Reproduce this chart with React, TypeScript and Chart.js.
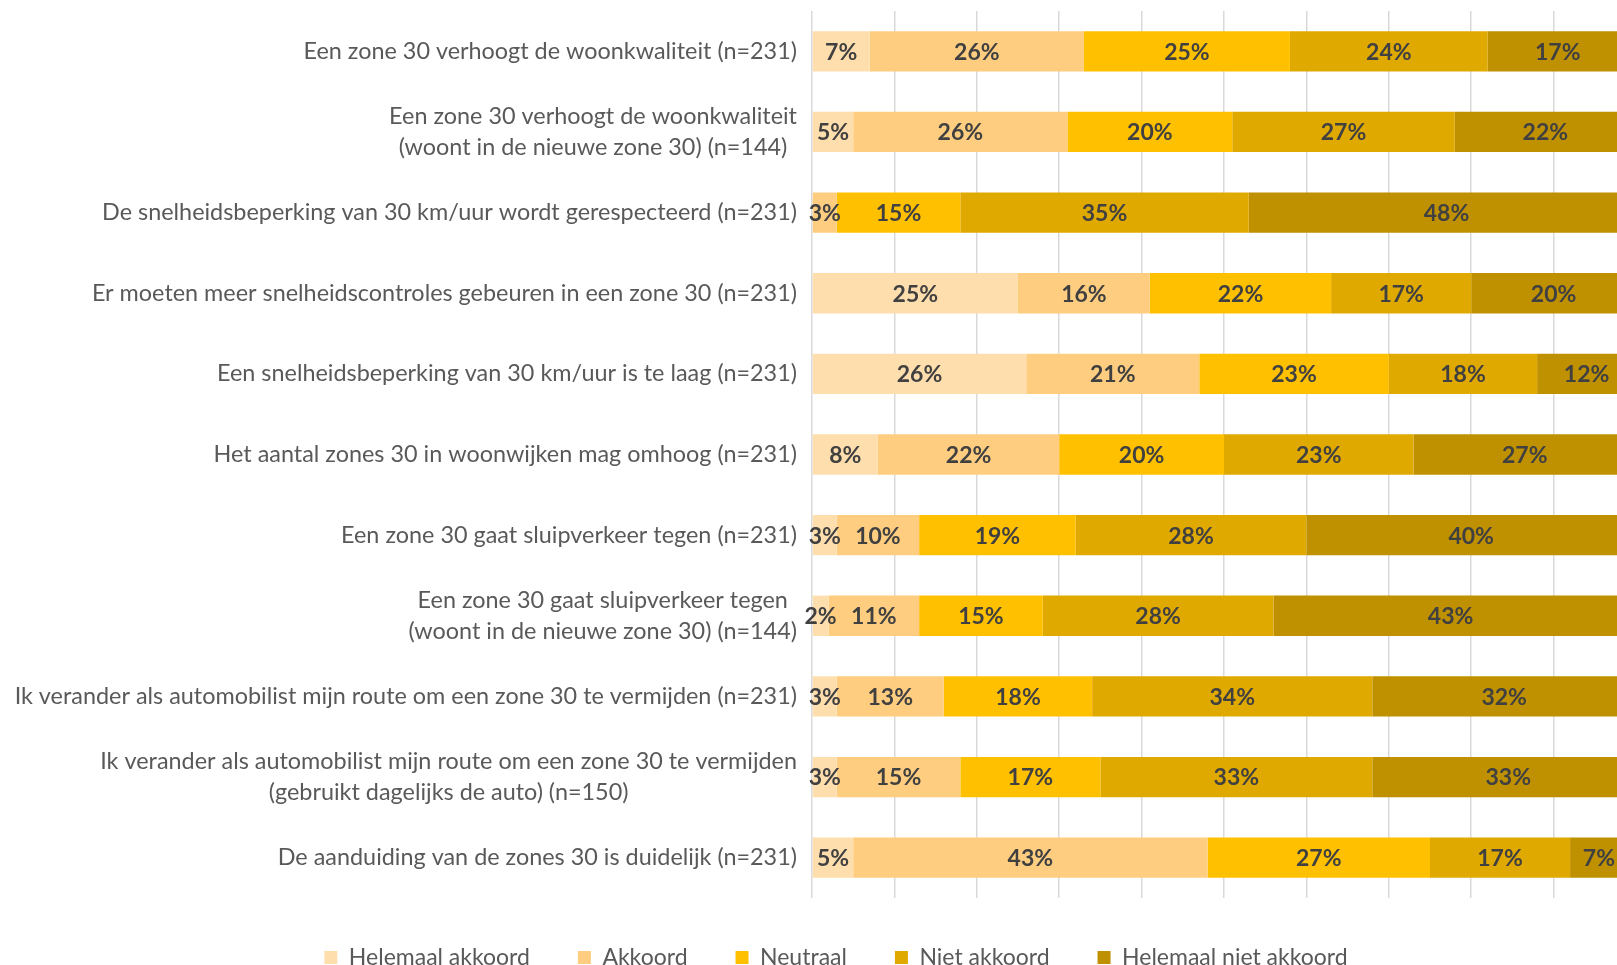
import React, { useEffect, useRef } from "react";
import { Chart, registerables } from "chart.js";

Chart.register(...registerables);

const categories: string[][] = [
  ["Een zone 30 verhoogt de woonkwaliteit (n=231)"],
  ["Een zone 30 verhoogt de woonkwaliteit", "(woont in de nieuwe zone 30) (n=144)"],
  ["De snelheidsbeperking van 30 km/uur wordt gerespecteerd (n=231)"],
  ["Er moeten meer snelheidscontroles gebeuren in een zone 30 (n=231)"],
  ["Een snelheidsbeperking van 30 km/uur is te laag (n=231)"],
  ["Het aantal zones 30 in woonwijken mag omhoog (n=231)"],
  ["Een zone 30 gaat sluipverkeer tegen (n=231)"],
  ["Een zone 30 gaat sluipverkeer tegen", "(woont in de nieuwe zone 30) (n=144)"],
  ["Ik verander als automobilist mijn route om een zone 30 te vermijden (n=231)"],
  ["Ik verander als automobilist mijn route om een zone 30 te vermijden", "(gebruikt dagelijks de auto) (n=150)"],
  ["De aanduiding van de zones 30 is duidelijk (n=231)"],
];

const seriesNames = [
  "Helemaal akkoord",
  "Akkoord",
  "Neutraal",
  "Niet akkoord",
  "Helemaal niet akkoord",
];

const helemaalAkkoord = [7, 5, 0, 25, 26, 8, 3, 2, 3, 3, 5];
const akkoord = [26, 26, 3, 16, 21, 22, 10, 11, 13, 15, 43];
const neutraal = [25, 20, 15, 22, 23, 20, 19, 15, 18, 17, 27];
const nietAkkoord = [24, 27, 35, 17, 18, 23, 28, 28, 34, 33, 17];
const helemaalNietAkkoord = [17, 22, 48, 20, 12, 27, 40, 43, 32, 33, 7];

const seriesColors = ["#FFDEAE", "#FFCD80", "#FFC000", "#E0A900", "#BF9000"];

const FONT = "Lato, 'Open Sans', sans-serif";
const LABEL_SIZE = 23.4;
const LEGEND_SIZE = 23;
const DATA_SIZE = 23;

const yLabelPlugin = {
  id: "yLabels",
  afterDraw(chart: any) {
    const { ctx, chartArea } = chart;
    const yScale = chart.scales.y;
    ctx.save();
    ctx.font = `${LABEL_SIZE}px ${FONT}`;
    ctx.fillStyle = "#595959";
    ctx.textAlign = "center";
    ctx.textBaseline = "middle";
    const lineH = 31;
    const right = chartArea.left - 15;
    categories.forEach((lines, i) => {
      const y = yScale.getPixelForValue(i);
      const w = Math.max(...lines.map((l) => ctx.measureText(l).width));
      const cx = right - w / 2;
      const startY = y - ((lines.length - 1) * lineH) / 2;
      lines.forEach((l, j) => ctx.fillText(l, cx, startY + j * lineH));
    });
    ctx.restore();
  },
};

const dataLabelPlugin = {
  id: "dataLabels",
  afterDatasetsDraw(chart: any) {
    const { ctx } = chart;
    ctx.save();
    ctx.font = `bold ${DATA_SIZE}px ${FONT}`;
    ctx.fillStyle = "#404040";
    ctx.textAlign = "center";
    ctx.textBaseline = "middle";
    chart.data.datasets.forEach((ds: any, di: number) => {
      const meta = chart.getDatasetMeta(di);
      meta.data.forEach((el: any, i: number) => {
        const v = ds.data[i];
        if (!v) return;
        const cx = (el.x + el.base) / 2;
        ctx.fillText(`${v}%`, cx, el.y + 1);
      });
    });
    ctx.restore();
  },
};

export default function App() {
  const ref = useRef<HTMLCanvasElement | null>(null);

  useEffect(() => {
    if (!ref.current) return;
    const allSeries = [helemaalAkkoord, akkoord, neutraal, nietAkkoord, helemaalNietAkkoord];
    const chart = new Chart(ref.current, {
      type: "bar",
      data: {
        labels: categories.map((c) => c.join(" ")),
        datasets: allSeries.map((d, i) => ({
          label: seriesNames[i],
          data: d,
          backgroundColor: seriesColors[i],
          borderWidth: 0,
          categoryPercentage: 1,
          barPercentage: 0.5,
        })),
      },
      options: {
        indexAxis: "y",
        responsive: false,
        animation: false,
        devicePixelRatio: 1,
        layout: { padding: { left: 36, right: 36, top: 11, bottom: 0 } },
        scales: {
          x: {
            type: "linear",
            stacked: true,
            min: 0,
            max: 100,
            ticks: { display: false, stepSize: 10 },
            grid: { color: "#D9D9D9", lineWidth: 1.5, drawTicks: false },
            border: { display: false },
            afterFit: (s: any) => {
              s.height = 0;
            },
          },
          y: {
            type: "category",
            stacked: true,
            ticks: { display: false },
            grid: { display: false },
            border: { display: false },
            afterFit: (s: any) => {
              s.width = 776;
            },
          },
        },
        plugins: {
          legend: {
            position: "bottom",
            labels: {
              boxWidth: 13,
              boxHeight: 13,
              padding: 48,
              color: "#595959",
              font: { family: FONT, size: LEGEND_SIZE },
            },
          },
          tooltip: { enabled: false },
        },
      },
      plugins: [yLabelPlugin, dataLabelPlugin],
    } as any);
    return () => chart.destroy();
  }, []);

  return (
    <div
      style={{
        position: "fixed",
        left: 0,
        top: 0,
        width: 1617,
        height: 965,
        overflow: "hidden",
        background: "#ffffff",
      }}
    >
      <canvas ref={ref} width={1672} height={979} style={{ display: "block", width: 1672, height: 979 }} />
    </div>
  );
}
